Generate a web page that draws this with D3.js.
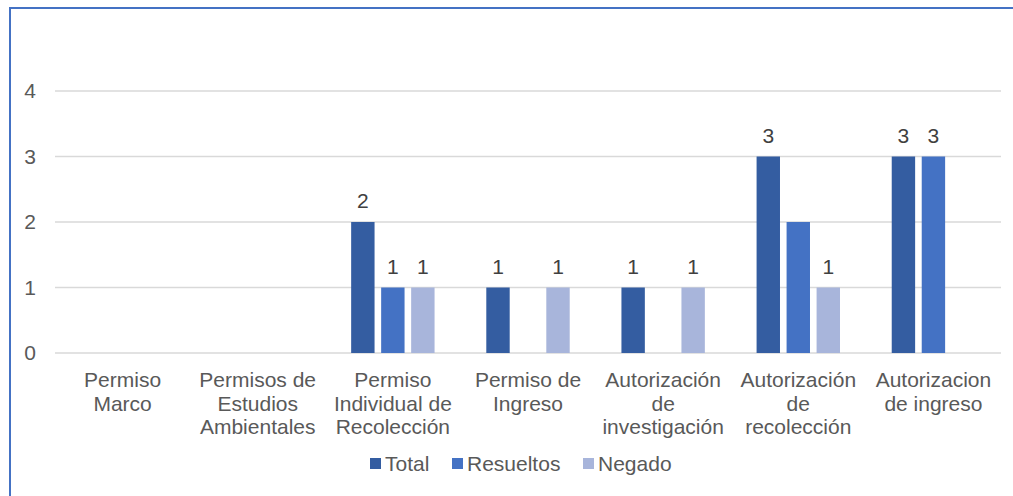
<!DOCTYPE html>
<html>
<head>
<meta charset="utf-8">
<script src="https://cdn.jsdelivr.net/npm/d3@7"></script>
<style>
	body { margin: 0; background: #fff; }
	svg { display: block; font-family: "Liberation Sans", Arial, sans-serif; }
</style>
</head>
<body>
<svg id="chart" width="1013" height="496"></svg>
<script>
const categories = [
	["Permiso", "Marco"],
	["Permisos de", "Estudios", "Ambientales"],
	["Permiso", "Individual de", "Recolección"],
	["Permiso de", "Ingreso"],
	["Autorización", "de", "investigación"],
	["Autorización", "de", "recolección"],
	["Autorizacion", "de ingreso"],
];
const series = ["Total", "Resueltos", "Negado"];
const total = [0, 0, 2, 1, 1, 3, 3];
const resueltos = [0, 0, 1, 0, 0, 2, 3];
const negado = [0, 0, 1, 1, 1, 1, 0];
// which bars carry a data label (the original chart skips some)
const labelled = {
	Total: [false, false, true, true, true, true, true],
	Resueltos: [false, false, true, false, false, false, true],
	Negado: [false, false, true, true, true, true, false],
};
const yTicks = [0, 1, 2, 3, 4];

const colors = {
	Total: "#345DA1",
	Resueltos: "#4472C4",
	Negado: "#A8B5DB",
	grid: "#D9D9D9",
	text: "#595959",
	label: "#404040",
	frame: "#4472C4",
};

const svg = d3.select("#chart");
const plot = { left: 55, right: 1001, top: 91, bottom: 353 };
const fontSize = 21;

// frame, right and bottom edges fall outside the picture
svg.append("rect")
	.attr("x", 10)
	.attr("y", 8)
	.attr("width", 1020)
	.attr("height", 500)
	.attr("fill", "none")
	.attr("stroke", colors.frame)
	.attr("stroke-width", 2);

const keys = categories.map((c) => c.join(" "));
const values = { Total: total, Resueltos: resueltos, Negado: negado };

const x0 = d3.scaleBand().domain(keys).range([plot.left, plot.right]).paddingInner(0.334).paddingOuter(0.167);
const x1 = d3.scaleBand().domain(series).range([0, x0.bandwidth()]).paddingInner(0.22).paddingOuter(0.11);
const y = d3.scaleLinear().domain([0, 4]).range([plot.bottom, plot.top]);

// gridlines
svg.append("g")
	.selectAll("line")
	.data(yTicks)
	.join("line")
	.attr("x1", plot.left)
	.attr("x2", plot.right)
	.attr("y1", (d) => y(d))
	.attr("y2", (d) => y(d))
	.attr("stroke", colors.grid)
	.attr("stroke-width", 1.5);

// y tick labels
svg.append("g")
	.selectAll("text")
	.data(yTicks)
	.join("text")
	.attr("x", 36)
	.attr("y", (d) => y(d) + 7)
	.attr("text-anchor", "end")
	.attr("font-size", fontSize)
	.attr("fill", colors.text)
	.text((d) => d);

const rows = keys.map((k, i) => ({ key: k, i }));

const group = svg.append("g")
	.selectAll(".cat")
	.data(rows)
	.join("g")
	.attr("class", "cat")
	.attr("transform", (d) => `translate(${x0(d.key)},0)`);

group.selectAll("rect")
	.data((d) => series.map((s) => ({ s, v: values[s][d.i] })).filter((b) => b.v > 0))
	.join("rect")
	.attr("x", (d) => x1(d.s))
	.attr("width", x1.bandwidth())
	.attr("y", (d) => y(d.v))
	.attr("height", (d) => y(0) - y(d.v))
	.attr("fill", (d) => colors[d.s]);

group.selectAll(".dlabel")
	.data((d) => series.map((s) => ({ s, v: values[s][d.i], show: labelled[s][d.i] })).filter((b) => b.show))
	.join("text")
	.attr("class", "dlabel")
	.attr("x", (d) => x1(d.s) + x1.bandwidth() / 2)
	.attr("y", (d) => y(d.v) - 14)
	.attr("text-anchor", "middle")
	.attr("font-size", fontSize)
	.attr("fill", colors.label)
	.text((d) => d.v);

// category labels
svg.append("g")
	.selectAll("text")
	.data(categories)
	.join("text")
	.attr("x", (d, i) => x0(keys[i]) + x0.bandwidth() / 2)
	.attr("y", 387)
	.attr("text-anchor", "middle")
	.attr("font-size", fontSize)
	.attr("fill", colors.text)
	.selectAll("tspan")
	.data((d) => d)
	.join("tspan")
	.attr("x", function () { return this.parentNode.getAttribute("x"); })
	.attr("dy", (d, i) => (i === 0 ? 0 : 23.7))
	.text((d) => d);

// legend
const legendX = [370, 452, 583];
const legend = svg.append("g")
	.selectAll("g")
	.data(series)
	.join("g")
	.attr("transform", (d, i) => `translate(${legendX[i]},464)`);

legend.append("rect")
	.attr("x", 0)
	.attr("y", -6)
	.attr("width", 11)
	.attr("height", 11)
	.attr("fill", (d) => colors[d]);

legend.append("text")
	.attr("x", 15)
	.attr("y", 7)
	.attr("font-size", fontSize)
	.attr("fill", colors.text)
	.text((d) => d);
</script>
</body>
</html>
